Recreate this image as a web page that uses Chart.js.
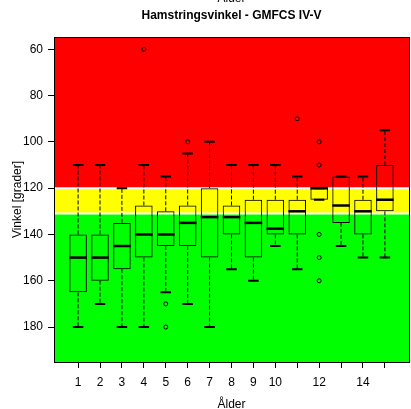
<!DOCTYPE html>
<html>
<head>
<meta charset="utf-8">
<script src="https://cdn.jsdelivr.net/npm/chart.js@4.4.1/dist/chart.umd.min.js"></script>
<style>
  html, body { margin: 0; padding: 0; background: #fff; overflow: hidden; }
  #wrap { width: 414px; height: 409px; }
</style>
</head>
<body>
<div id="wrap"><canvas id="boxChart" width="414" height="409"></canvas></div>
<script>
// age groups on the x axis
const ages = [1, 2, 3, 4, 5, 6, 7, 8, 9, 10, 11, 12, 13, 14, 15];
const xTickLabels = ['1', '2', '3', '4', '5', '6', '7', '8', '9', '10', '', '12', '', '14', ''];
const yTicks = [60, 80, 100, 120, 140, 160, 180];

// box statistics per age (degrees)
const whiskerMin = [110, 110, 120, 110, 115, 105, 100, 110, 110, 110, 115, 120, 115, 115, 95];
const q1 = [140, 140, 135, 127.5, 130, 127.5, 120, 127.5, 125, 125, 125, 120, 115, 125, 110];
const medians = [150, 150, 145, 140, 140, 135, 132.5, 132.5, 135, 137.5, 130, 120, 127.5, 130, 125];
const q3 = [165, 160, 155, 150, 145, 145, 150, 140, 150, 140, 140, 125, 135, 140, 130];
const whiskerMax = [180, 170, 180, 180, 165, 170, 180, 155, 160, 145, 155, 125, 145, 150, 150];

// outliers as [age, degrees]
const outliers = [[4, 60], [5, 170], [5, 180], [6, 100], [11, 90], [12, 100], [12, 110], [12, 140], [12, 150], [12, 160]];

// colour zones
const zoneLimits = [120, 131];
const zoneColors = ['#ff0000', '#ffff00', '#00ff00'];

const FONT = "'Liberation Sans', Arial, Helvetica, sans-serif";

const zones = {
  id: 'zones',
  beforeDatasetsDraw(chart) {
    const { ctx, chartArea: a, scales: { y } } = chart;
    const y1 = y.getPixelForValue(zoneLimits[0]);
    const y2 = y.getPixelForValue(zoneLimits[1]);
    ctx.save();
    ctx.fillStyle = zoneColors[0];
    ctx.fillRect(a.left, a.top, a.right - a.left, y1 - a.top);
    ctx.fillStyle = zoneColors[1];
    ctx.fillRect(a.left, y1, a.right - a.left, y2 - y1);
    ctx.fillStyle = zoneColors[2];
    ctx.fillRect(a.left, y2, a.right - a.left, a.bottom - y2);
    ctx.strokeStyle = '#fff';
    ctx.lineWidth = 2;
    [y1, y2].forEach(v => {
      ctx.beginPath();
      ctx.moveTo(a.left, v);
      ctx.lineTo(a.right, v);
      ctx.stroke();
    });
    ctx.restore();
  }
};

const boxParts = {
  id: 'boxParts',
  afterDatasetsDraw(chart) {
    const { ctx, chartArea: a, scales: { x, y } } = chart;
    const bars = chart.getDatasetMeta(0).data;
    ctx.save();
    ctx.strokeStyle = '#000';
    ages.forEach((age, i) => {
      const cx = x.getPixelForValue(age);
      const half = bars[i].width / 2;
      const cap = half * 0.6;
      // whiskers
      ctx.lineWidth = 1;
      ctx.setLineDash([4, 2]);
      ctx.beginPath();
      ctx.moveTo(cx, y.getPixelForValue(q1[i]));
      ctx.lineTo(cx, y.getPixelForValue(whiskerMin[i]));
      ctx.moveTo(cx, y.getPixelForValue(q3[i]));
      ctx.lineTo(cx, y.getPixelForValue(whiskerMax[i]));
      ctx.stroke();
      ctx.setLineDash([]);
      // caps
      ctx.lineWidth = 2;
      ctx.beginPath();
      [whiskerMin[i], whiskerMax[i]].forEach(v => {
        const py = y.getPixelForValue(v);
        ctx.moveTo(cx - cap, py);
        ctx.lineTo(cx + cap, py);
      });
      ctx.stroke();
      // median
      ctx.lineWidth = 2.5;
      ctx.beginPath();
      const my = y.getPixelForValue(medians[i]);
      ctx.moveTo(cx - half, my);
      ctx.lineTo(cx + half, my);
      ctx.stroke();
    });
    // plot frame
    ctx.lineWidth = 1;
    ctx.strokeRect(Math.round(a.left) + 0.5, Math.round(a.top) + 0.5, a.right - a.left, a.bottom - a.top);
    ctx.restore();
  },
  afterDraw(chart) {
    const { ctx, chartArea: a } = chart;
    ctx.save();
    ctx.fillStyle = '#000';
    ctx.font = '12px ' + FONT;
    ctx.textAlign = 'center';
    ctx.textBaseline = 'alphabetic';
    ctx.fillText('Ålder', (a.left + a.right) / 2, 2);
    ctx.restore();
  }
};

new Chart(document.getElementById('boxChart'), {
  type: 'bar',
  data: {
    datasets: [{
      data: ages.map((age, i) => ({ x: age, y: [q1[i], q3[i]] })),
      backgroundColor: 'rgba(0,0,0,0)',
      borderColor: '#000',
      borderWidth: 1,
      borderSkipped: false,
      barPercentage: 0.8,
      categoryPercentage: 1
    }, {
      type: 'scatter',
      data: outliers.map(p => ({ x: p[0], y: p[1] })),
      pointStyle: 'circle',
      pointRadius: 2,
      pointBorderWidth: 1,
      borderColor: '#000',
      backgroundColor: 'rgba(0,0,0,0)'
    }]
  },
  options: {
    responsive: false,
    animation: false,
    layout: { padding: { left: 0, right: 1, top: 0, bottom: 0 } },
    plugins: {
      legend: { display: false },
      tooltip: { enabled: false },
      title: {
        display: true,
        text: 'Hamstringsvinkel - GMFCS IV-V',
        fullSize: false,
        color: '#000',
        font: { family: FONT, size: 12, weight: 'bold' },
        padding: { top: 8.3, bottom: 14.3 }
      }
    },
    scales: {
      x: {
        type: 'linear',
        min: -0.1,
        max: 16.1,
        offset: false,
        afterBuildTicks: s => { s.ticks = ages.map(v => ({ value: v })); },
        afterFit: s => { s.height = 47; },
        grid: { offset: false, drawOnChartArea: false, tickLength: 6, color: '#000' },
        border: { display: false },
        ticks: {
          color: '#000',
          font: { family: FONT, size: 12 },
          padding: 7,
          autoSkip: false,
          maxRotation: 0,
          callback: (v, i) => xTickLabels[i]
        },
        title: {
          display: true,
          text: 'Ålder',
          color: '#000',
          font: { family: FONT, size: 12, lineHeight: 1 },
          padding: { top: 0, bottom: -2 }
        }
      },
      y: {
        type: 'linear',
        reverse: true,
        min: 54.7,
        max: 195.1,
        afterBuildTicks: s => { s.ticks = yTicks.map(v => ({ value: v })); },
        afterFit: s => { s.width = 54; },
        grid: { drawOnChartArea: false, tickLength: 6, color: '#000' },
        border: { display: false },
        ticks: { color: '#000', font: { family: FONT, size: 12 }, padding: 5 },
        title: {
          display: true,
          text: 'Vinkel [grader]',
          color: '#000',
          font: { family: FONT, size: 12 },
          padding: { top: 10, bottom: 0 }
        }
      }
    }
  },
  plugins: [zones, boxParts]
});
</script>
</body>
</html>
